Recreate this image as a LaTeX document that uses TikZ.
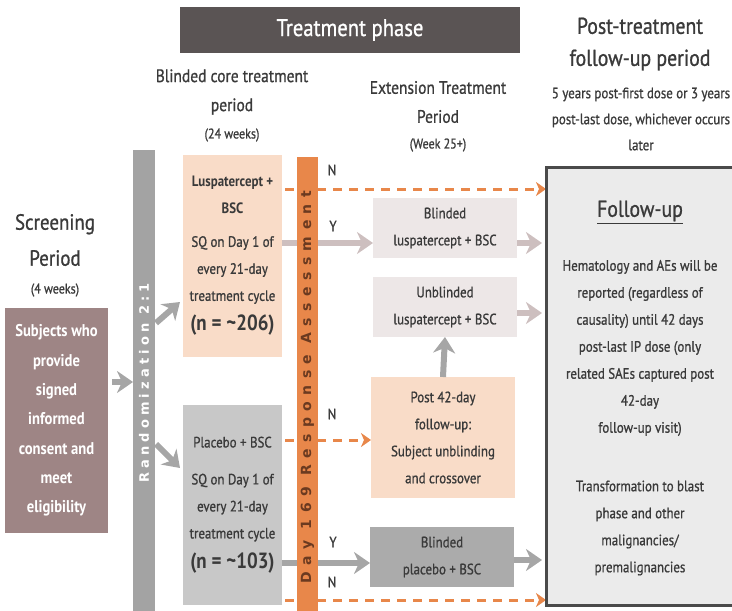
\documentclass[tikz,border=0pt]{standalone}
\usepackage{fontspec}
\setmainfont{PT Sans}[FakeStretch=0.86, UprightFeatures={FakeBold=0.9}]
\newfontfamily\randfont{DejaVu Sans}[LetterSpace=32]
\newfontfamily\dayfont{DejaVu Sans}[LetterSpace=46]
\usetikzlibrary{arrows.meta}
\definecolor{txt}{HTML}{3A3A3A}
\definecolor{titlebar}{HTML}{5A5454}
\definecolor{subj}{HTML}{9E8585}
\definecolor{randc}{HTML}{A3A3A3}
\definecolor{peach}{HTML}{F9DCC8}
\definecolor{placebo}{HTML}{C8C8C8}
\definecolor{orangec}{HTML}{E8874A}
\definecolor{lightbox}{HTML}{EDE7E7}
\definecolor{lightarr}{HTML}{CDBFBF}
\definecolor{grayarr}{HTML}{A6A6A6}
\definecolor{darkbox}{HTML}{ABABAB}
\definecolor{fufill}{HTML}{EBEBEB}
\definecolor{fuborder}{HTML}{4A4A4A}
\definecolor{dayc}{HTML}{6B3A20}
\pgfdeclarelayer{bg}
\pgfsetlayers{bg,main}
\begin{document}
\begin{tikzpicture}[x=1pt,y=-1pt,
  every node/.style={inner sep=0pt, outer sep=0pt, align=center, text=txt},
  hdr/.style={font=\fontsize{18}{29}\selectfont},
  sub/.style={font=\fontsize{14}{26}\selectfont},
  body/.style={font=\fontsize{15}{27}\selectfont},
  lbl/.style={font=\fontsize{15}{18}\selectfont},
  thickarr/.style={line width=6pt, -{Stealth[length=16pt,width=22pt,inset=5pt]}},
  dasharr/.style={orangec, line width=3pt, dash pattern=on 9pt off 7pt, -{Stealth[length=10pt,width=14pt,inset=3pt]}}
]
\useasboundingbox (0,0) rectangle (732,611);

% title bar
\node[fill=titlebar, minimum width=340pt, minimum height=46pt, text=white, font=\fontsize{24}{28}\selectfont] (title) at (350,30) {Treatment phase};

% headers
\node[hdr] (h1) at (232,92) {Blinded core treatment\\period};
\node[sub] (h1s) at (232,135) {(24 weeks)};
\node[hdr] (h2) at (438,102) {Extension Treatment\\Period};
\node[sub] (h2s) at (438,145) {(Week 25+)};
\node[font=\fontsize{23}{32}\selectfont] (h3) at (640,44) {Post-treatment\\follow-up period};
\node[font=\fontsize{15}{26}\selectfont] (h3s) at (641,119) {5 years post-first dose or 3 years\\post-last dose, whichever occurs\\later};
\node[font=\fontsize{22}{36}\selectfont] (h4) at (55,240) {Screening\\Period};
\node[sub] (h4s) at (55,290) {(4 weeks)};

% subjects box
\node[fill=subj, minimum width=103pt, minimum height=225pt, text=white, font=\fontsize{17}{29.3}\selectfont\bfseries] (subj) at (56.5,420.5)
  {Subjects who\\provide\\signed\\informed\\consent and\\meet\\eligibility};

% randomization bar
\node[fill=randc, minimum width=22pt, minimum height=461pt] (rand) at (144,380.5) {};
\node[rotate=90, text=white, font=\randfont\bfseries\fontsize{13}{14}\selectfont] (randt) at (144,383) {Randomization 2:1};

% core boxes
\node[fill=peach, minimum width=99pt, minimum height=202pt, body] (lusp) at (232.5,256)
  {\textbf{Luspatercept +}\\\textbf{BSC}\\[6pt]SQ on Day 1 of\\every 21-day\\treatment cycle\\[3pt]{\fontsize{22}{26}\selectfont\bfseries (n = \textasciitilde206)}};
\node[fill=placebo, minimum width=99pt, minimum height=200pt, body] (plac) at (232.5,505)
  {Placebo + BSC\\[10pt]SQ on Day 1 of\\every 21-day\\treatment cycle\\[3pt]{\fontsize{22}{26}\selectfont\bfseries (n = \textasciitilde103)}};

% day 169 bar
\node[fill=orangec, minimum width=21pt, minimum height=454pt] (day) at (307.5,384) {};
\node[rotate=90, text=dayc, font=\dayfont\bfseries\fontsize{14}{14}\selectfont] (dayt) at (307.5,387) {Day 169 Response Assessment};

% extension boxes
\node[fill=lightbox, minimum width=144pt, minimum height=60pt, body] (bl) at (445,228) {Blinded\\luspatercept + BSC};
\node[fill=lightbox, minimum width=144pt, minimum height=60pt, body] (ub) at (445,307) {Unblinded\\luspatercept + BSC};
\node[fill=peach, minimum width=144pt, minimum height=121pt, body] (p42) at (443,437.5) {Post 42-day\\follow-up:\\Subject unblinding\\and crossover};
\node[fill=darkbox, minimum width=144pt, minimum height=60pt, body] (bp) at (442,557) {Blinded\\placebo + BSC};

% follow-up box
\node[fill=fufill, draw=fuborder, line width=3pt, minimum width=196pt, minimum height=438pt] (fu) at (644,386) {};
\node[font=\fontsize{23}{26}\selectfont] (fut) at (640,212) {\underline{Follow-up}};
\node[body] (fub) at (640,348) {Hematology and AEs will be\\reported (regardless of\\causality) until 42 days\\post-last IP dose (only\\related SAEs captured post\\42-day\\follow-up visit)};
\node[body] (fuc) at (640,528) {Transformation to blast\\phase and other\\malignancies/\\premalignancies};

% labels
\node[lbl] (n1) at (332,170) {N};
\node[lbl] (y1) at (333,226) {Y};
\node[lbl] (n2) at (332,414) {N};
\node[lbl] (y2) at (333,542) {Y};
\node[lbl] (n3) at (332,582) {N};

% coordinates
\coordinate (sa) at (112,382);
\coordinate (r1) at (156,323);
\coordinate (r1e) at (180,302);
\coordinate (r2) at (156,444);
\coordinate (r2e) at (180,468);
\coordinate (d1) at (285,189);
\coordinate (d2) at (285,440);
\coordinate (d3) at (285,600);

\begin{pgfonlayer}{bg}
\draw[thickarr, grayarr] (sa) -- (rand.west |- sa);
\draw[thickarr, grayarr] (r1) -- (r1e);
\draw[thickarr, grayarr] (r2) -- (r2e);
\draw[dasharr] (d1) -- (fu.west |- d1);
\draw[thickarr, lightarr] (lusp.east |- 0,243) -- (bl.west |- 0,243);
\draw[thickarr, grayarr] (plac.east |- 0,563) -- (bp.west |- 0,563);
\draw[dasharr] (d2) -- (p42.west |- d2);
\draw[dasharr] (d3) -- (fu.west |- d3);
\end{pgfonlayer}
\draw[thickarr, lightarr] (bl.east |- 0,243) -- ([xshift=-4pt]fu.west |- 0,243);
\draw[thickarr, lightarr] (ub.east |- 0,313) -- ([xshift=-4pt]fu.west |- 0,313);
\draw[thickarr, grayarr] (bp.east |- 0,560) -- ([xshift=-4pt]fu.west |- 0,560);
\draw[thickarr, grayarr] (p42.north) -- (ub.south);
\end{tikzpicture}
\end{document}
